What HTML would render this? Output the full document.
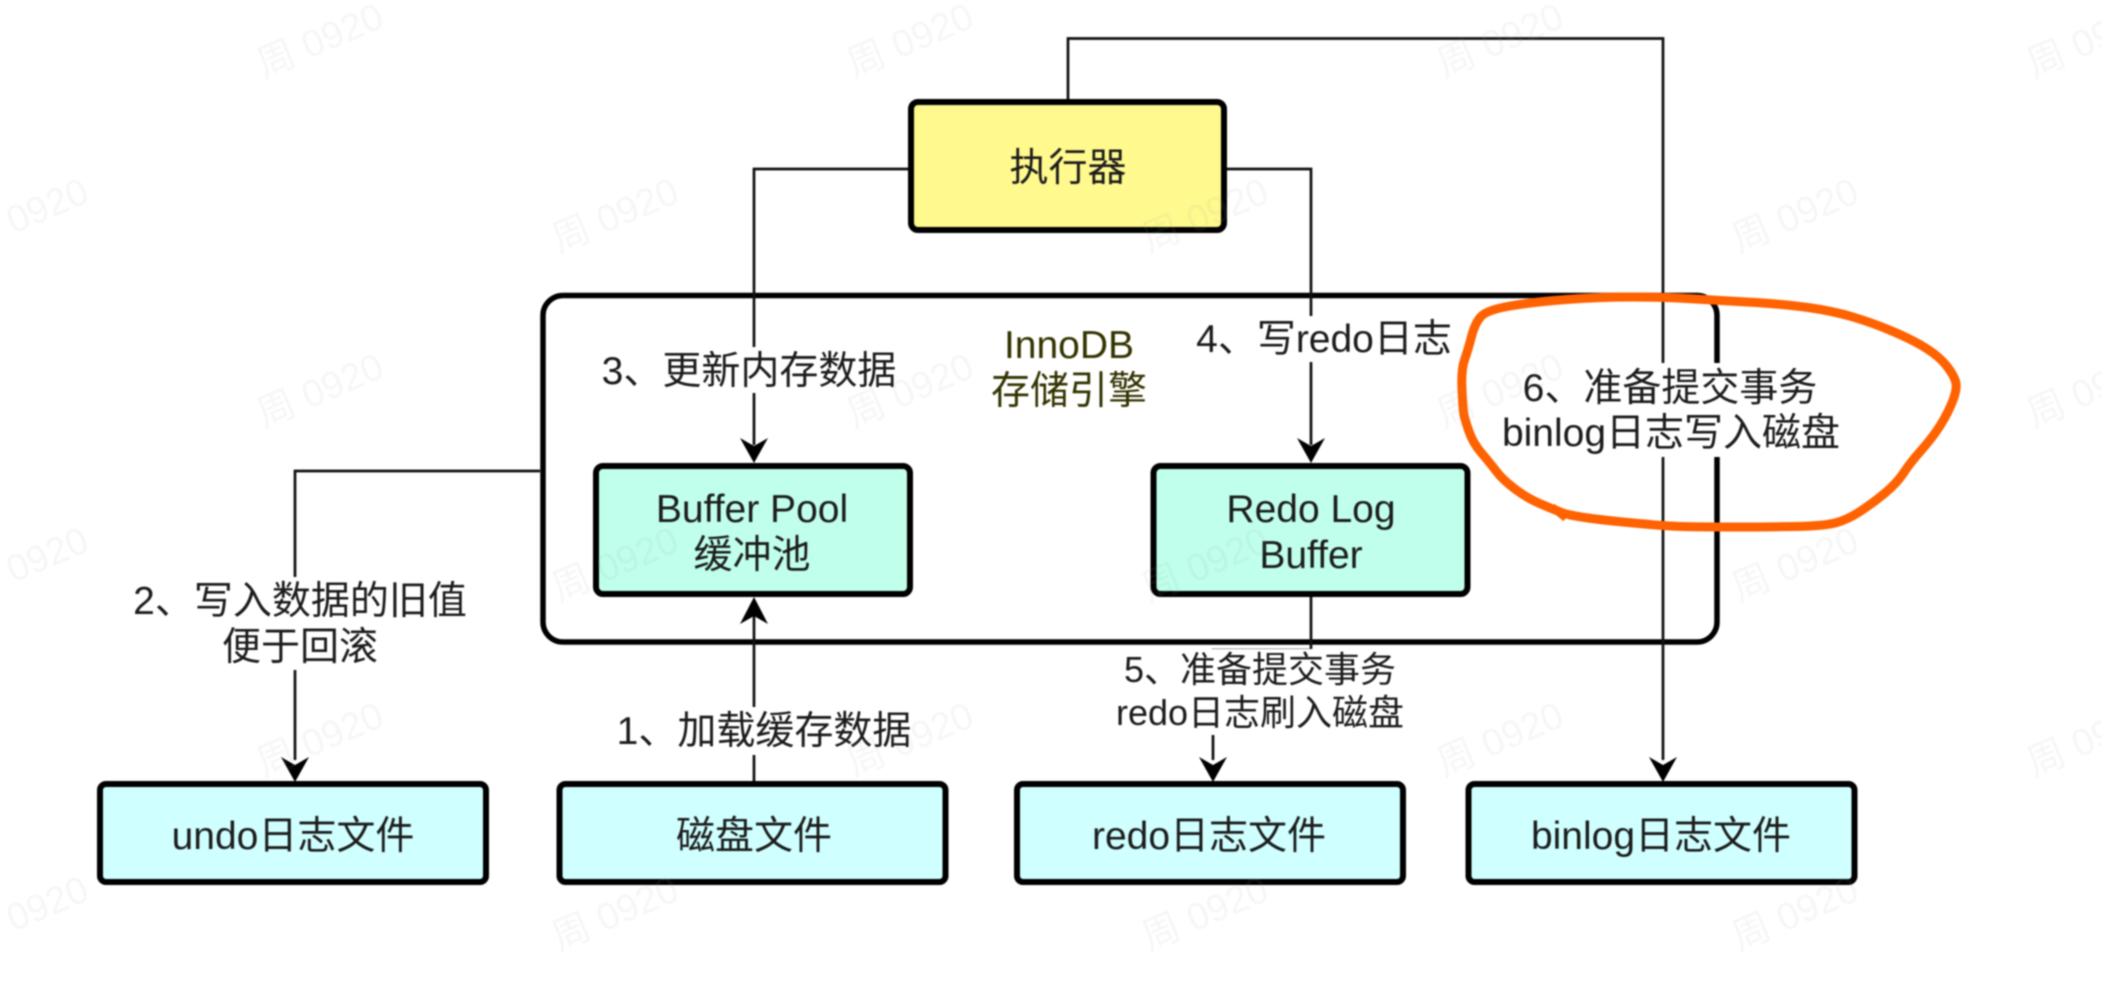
<!DOCTYPE html>
<html><head><meta charset="utf-8">
<style>
html,body{margin:0;padding:0;background:#fff;width:2102px;height:996px;overflow:hidden}
svg{display:block;filter:blur(0.7px)}
text{font-family:"Liberation Sans","Noto Sans CJK SC",sans-serif;font-size:39px;fill:#1c1c1c;text-anchor:middle}
.s{font-size:36px}
.o{fill:#333300}
.w{font-size:38px;fill:#90a8a0;fill-opacity:.09}
</style></head><body>
<svg width="2102" height="996" viewBox="0 0 2102 996" xmlns="http://www.w3.org/2000/svg">
<rect width="2102" height="996" fill="#fff"/>
<!-- container -->
<rect x="543" y="295.500" width="1174" height="346.500" rx="20" fill="#fff" stroke="#000" stroke-width="5.500"/>
<!-- connectors -->
<g fill="none" stroke="#111" stroke-width="2.700">
<path d="M1068 100V38.500H1663V760"/>
<path d="M908 169H754V445"/>
<path d="M1227 169H1311V445"/>
<path d="M540 471H295V760"/>
<path d="M754 781V615"/>
<path d="M1311 597V650H1213V760"/>
</g>
<!-- label backgrounds -->
<g fill="#fff">
<rect x="596" y="347" width="306" height="46"/>
<rect x="1192" y="316" width="264" height="46"/>
<rect x="1496" y="363" width="348" height="94"/>
<rect x="128" y="577" width="344" height="93"/>
<rect x="612" y="707" width="304" height="48"/>
<rect x="1112" y="649" width="296" height="86"/>
</g>
<!-- boxes -->
<g stroke="#000" stroke-width="6">
<rect x="911" y="102" width="313" height="128" rx="7" fill="#FFF98E"/>
<rect x="596" y="466" width="314" height="128" rx="7" fill="#BFFFEB"/>
<rect x="1153.500" y="466" width="314" height="128" rx="7" fill="#BFFFEB"/>
<rect x="100" y="784" width="386" height="98" rx="6" fill="#CFFFFF"/>
<rect x="559.500" y="784" width="386" height="98" rx="6" fill="#CFFFFF"/>
<rect x="1017" y="784" width="386" height="98" rx="6" fill="#CFFFFF"/>
<rect x="1468.500" y="784" width="386" height="98" rx="6" fill="#CFFFFF"/>
</g>
<!-- arrowheads -->
<g fill="#000">
<polygon points="754,463 740,438 754,446 768,438"/>
<polygon points="1311,463 1297,438 1311,446 1325,438"/>
<polygon points="295,782 281,757 295,765 309,757"/>
<polygon points="1213,782 1199,757 1213,765 1227,757"/>
<polygon points="1663,782 1649,757 1663,765 1677,757"/>
<polygon points="754,597 740,624 754,616 768,624"/>
</g>
<!-- box text -->
<text x="1068" y="181">执行器</text>
<text x="752" y="522">Buffer Pool</text>
<text x="752" y="568">缓冲池</text>
<text x="1311" y="522">Redo Log</text>
<text x="1311" y="568">Buffer</text>
<text x="293" y="849">undo日志文件</text>
<text x="754" y="849">磁盘文件</text>
<text x="1209" y="849">redo日志文件</text>
<text x="1661" y="849">binlog日志文件</text>
<!-- labels -->
<text class="o" x="1069" y="358">InnoDB</text>
<text class="o" x="1069" y="404">存储引擎</text>
<text x="749" y="384">3、更新内存数据</text>
<text x="1324" y="352">4、写redo日志</text>
<text x="1670" y="401">6、准备提交事务</text>
<text x="1671" y="446">binlog日志写入磁盘</text>
<text x="300" y="614">2、写入数据的旧值</text>
<text x="300" y="660">便于回滚</text>
<text x="764" y="744">1、加载缓存数据</text>
<text class="s" x="1260" y="682">5、准备提交事务</text>
<text class="s" x="1260" y="725">redo日志刷入磁盘</text>
<!-- hand-drawn loop -->
<path d="M1462,390 Q1461,370 1464.500,360 Q1468,350 1471.500,336.500 Q1475,323 1481,316.500 Q1487,310 1510,306 Q1533,302 1566.500,299.500 Q1600,297 1631.500,297 Q1663,297 1686.500,298.500 Q1710,300 1746.500,302 Q1783,304 1808,307.500 Q1833,311 1853,317 Q1873,323 1893,331.500 Q1913,340 1926.500,348.500 Q1940,357 1947.500,367 Q1955,377 1956,383.500 Q1957,390 1952.500,401.500 Q1948,413 1940.500,425 Q1933,437 1921.500,450 Q1910,463 1903.500,473 Q1897,483 1885,493 Q1873,503 1860,511.500 Q1847,520 1835,523 Q1823,526 1795,526.500 Q1767,527 1733.500,527 Q1700,527 1681.500,526.500 Q1663,526 1618,521.500 Q1573,517 1561.500,512.500 Q1550,508 1538.500,503 Q1527,498 1515,489 Q1503,480 1496.500,471.500 Q1490,463 1481.500,453 Q1473,443 1469,431.500 Q1465,420 1464,415 Q1463,410 1462,390 Z" fill="none" stroke="#FF6200" stroke-width="9" stroke-linejoin="round"/>
<path d="M1552,507 L1566,518" fill="none" stroke="#FF6200" stroke-width="8"/>
<!-- watermarks -->
<g transform="translate(3,-2)">
<text class="w" transform="translate(322,54) rotate(-23)">周 0920</text>
<text class="w" transform="translate(912,54) rotate(-23)">周 0920</text>
<text class="w" transform="translate(1502,54) rotate(-23)">周 0920</text>
<text class="w" transform="translate(2092,54) rotate(-23)">周 0920</text>
<text class="w" transform="translate(27,229) rotate(-23)">周 0920</text>
<text class="w" transform="translate(617,229) rotate(-23)">周 0920</text>
<text class="w" transform="translate(1207,229) rotate(-23)">周 0920</text>
<text class="w" transform="translate(1797,229) rotate(-23)">周 0920</text>
<text class="w" transform="translate(322,404) rotate(-23)">周 0920</text>
<text class="w" transform="translate(912,404) rotate(-23)">周 0920</text>
<text class="w" transform="translate(1502,404) rotate(-23)">周 0920</text>
<text class="w" transform="translate(2092,404) rotate(-23)">周 0920</text>
<text class="w" transform="translate(27,578) rotate(-23)">周 0920</text>
<text class="w" transform="translate(617,578) rotate(-23)">周 0920</text>
<text class="w" transform="translate(1207,578) rotate(-23)">周 0920</text>
<text class="w" transform="translate(1797,578) rotate(-23)">周 0920</text>
<text class="w" transform="translate(322,753) rotate(-23)">周 0920</text>
<text class="w" transform="translate(912,753) rotate(-23)">周 0920</text>
<text class="w" transform="translate(1502,753) rotate(-23)">周 0920</text>
<text class="w" transform="translate(2092,753) rotate(-23)">周 0920</text>
<text class="w" transform="translate(27,927) rotate(-23)">周 0920</text>
<text class="w" transform="translate(617,927) rotate(-23)">周 0920</text>
<text class="w" transform="translate(1207,927) rotate(-23)">周 0920</text>
<text class="w" transform="translate(1797,927) rotate(-23)">周 0920</text>
</g>
</svg>
</body></html>
